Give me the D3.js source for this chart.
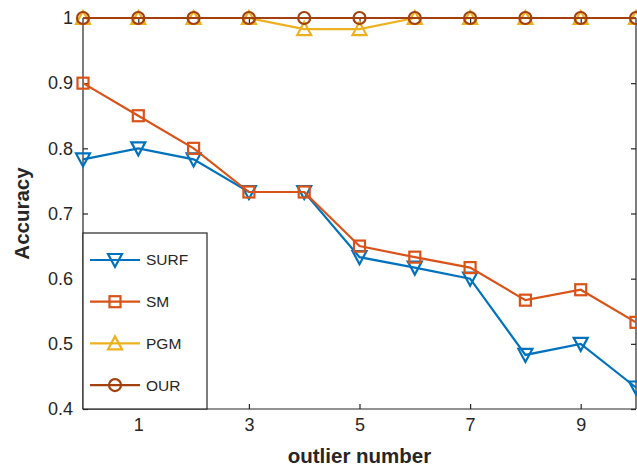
<!DOCTYPE html>
<html>
<head>
<meta charset="utf-8">
<script src="https://cdn.jsdelivr.net/npm/d3@7"></script>
<style>
  body { margin: 0; background: #fff; }
  text { font-family: "Liberation Sans", Arial, Helvetica, sans-serif; fill: #262626; }
</style>
</head>
<body>
<script>
// data
var outliers = [0, 1, 2, 3, 4, 5, 6, 7, 8, 9, 10];
var surf = [0.783, 0.8, 0.783, 0.733, 0.733, 0.633, 0.617, 0.6, 0.483, 0.5, 0.433];
var sm   = [0.9, 0.85, 0.8, 0.733, 0.733, 0.65, 0.633, 0.617, 0.567, 0.583, 0.533];
var pgm  = [1, 1, 1, 1, 0.983, 0.983, 1, 1, 1, 1, 1];
var our  = [1, 1, 1, 1, 1, 1, 1, 1, 1, 1, 1];
var xTicks = [1, 3, 5, 7, 9];
var yTicks = [0.4, 0.5, 0.6, 0.7, 0.8, 0.9, 1];

var series = [
  {name: "SURF", values: surf, colour: "#0072BD", marker: "down"},
  {name: "SM",   values: sm,   colour: "#D95319", marker: "square"},
  {name: "PGM",  values: pgm,  colour: "#EDB120", marker: "up"},
  {name: "OUR",  values: our,  colour: "#A2410F", marker: "circle"}
];

var W = 637, H = 468;
// plot box (window.top is read-only, so use other names)
var pLeft = 83, pRight = 636, pTop = 18, pBottom = 409;

var x = d3.scaleLinear().domain([0, 10]).range([pLeft, pRight]);
var y = d3.scaleLinear().domain([0.4, 1]).range([pBottom, pTop]);

var svg = d3.select("body").append("svg")
  .attr("width", W)
  .attr("height", H);

// axes (MATLAB style, ticks inside)
var xAxis = svg.append("g")
  .attr("transform", "translate(0," + pBottom + ")")
  .call(d3.axisBottom(x).tickValues(xTicks).tickSize(-5).tickPadding(9).tickFormat(d3.format("d")));
var yAxis = svg.append("g")
  .attr("transform", "translate(" + pLeft + ",0)")
  .call(d3.axisLeft(y).tickValues(yTicks).tickSize(-5).tickPadding(10).tickFormat(function(d) { return d === 1 ? "1" : d3.format(".1f")(d); }));
var yRight = svg.append("g")
  .attr("transform", "translate(" + pRight + ",0)")
  .call(d3.axisRight(y).tickValues(yTicks).tickSize(-5).tickFormat(""));
var xTop = svg.append("g")
  .attr("transform", "translate(0," + pTop + ")")
  .call(d3.axisTop(x).tickValues(xTicks).tickSize(-5).tickFormat(""));

[xAxis, yAxis, yRight, xTop].forEach(function(g) {
  g.selectAll("path").attr("stroke", "#262626").attr("stroke-width", 1.2);
  g.selectAll("line").attr("stroke", "#262626").attr("stroke-width", 1.2);
  g.selectAll("text").attr("font-size", 18).style("fill", "#262626")
    .attr("font-family", "Liberation Sans, Arial, sans-serif");
});
xAxis.select(".domain").attr("d", "M" + pLeft + ",0H" + pRight);
yAxis.select(".domain").attr("d", "M0," + pBottom + "V" + pTop);
yRight.select(".domain").attr("d", "M0," + pBottom + "V" + pTop);
xTop.select(".domain").attr("d", "M" + pLeft + ",0H" + pRight);

// marker drawing
function drawMarker(g, type, colour) {
  if (type === "down") {
    g.append("path").attr("d", "M-7,-6L7,-6L0,7Z");
  } else if (type === "up") {
    g.append("path").attr("d", "M-7,6L7,6L0,-7Z");
  } else if (type === "square") {
    g.append("rect").attr("x", -5.5).attr("y", -5.5).attr("width", 11).attr("height", 11);
  } else {
    g.append("circle").attr("r", 6);
  }
  g.selectAll("path,rect,circle")
    .attr("fill", "none")
    .attr("stroke", colour)
    .attr("stroke-width", 2.2);
}

var line = d3.line()
  .x(function(d, i) { return x(outliers[i]); })
  .y(function(d) { return y(d); });

series.forEach(function(s) {
  svg.append("path")
    .datum(s.values)
    .attr("fill", "none")
    .attr("stroke", s.colour)
    .attr("stroke-width", 2.2)
    .attr("d", line);
  svg.append("g").selectAll("g")
    .data(s.values)
    .enter().append("g")
    .attr("transform", function(d, i) { return "translate(" + x(outliers[i]) + "," + y(d) + ")"; })
    .each(function() { drawMarker(d3.select(this), s.marker, s.colour); });
});

// legend
var legend = svg.append("g");
legend.append("rect")
  .attr("x", pLeft)
  .attr("y", 233)
  .attr("width", 124)
  .attr("height", pBottom - 233)
  .attr("fill", "#fff")
  .attr("stroke", "#262626")
  .attr("stroke-width", 1.2);

var item = legend.selectAll(".item")
  .data(series)
  .enter().append("g")
  .attr("class", "item")
  .attr("transform", function(d, i) { return "translate(" + pLeft + "," + (260 + i * 41.7) + ")"; });

item.append("line")
  .attr("x1", 7).attr("x2", 57)
  .attr("stroke", function(d) { return d.colour; })
  .attr("stroke-width", 2.2);
item.append("g")
  .attr("transform", "translate(32,0)")
  .each(function(d) { drawMarker(d3.select(this), d.marker, d.colour); });
item.append("text")
  .attr("x", 63)
  .attr("dy", "0.35em")
  .attr("font-size", 15.5)
  .text(function(d) { return d.name; });

// axis titles
svg.append("text")
  .attr("x", (pLeft + pRight) / 2)
  .attr("y", 463)
  .attr("text-anchor", "middle")
  .attr("font-size", 20.5)
  .attr("font-weight", "bold")
  .text("outlier number");

svg.append("text")
  .attr("transform", "translate(29," + ((pTop + pBottom) / 2) + ") rotate(-90)")
  .attr("text-anchor", "middle")
  .attr("font-size", 20.5)
  .attr("font-weight", "bold")
  .text("Accuracy");
</script>
</body>
</html>
